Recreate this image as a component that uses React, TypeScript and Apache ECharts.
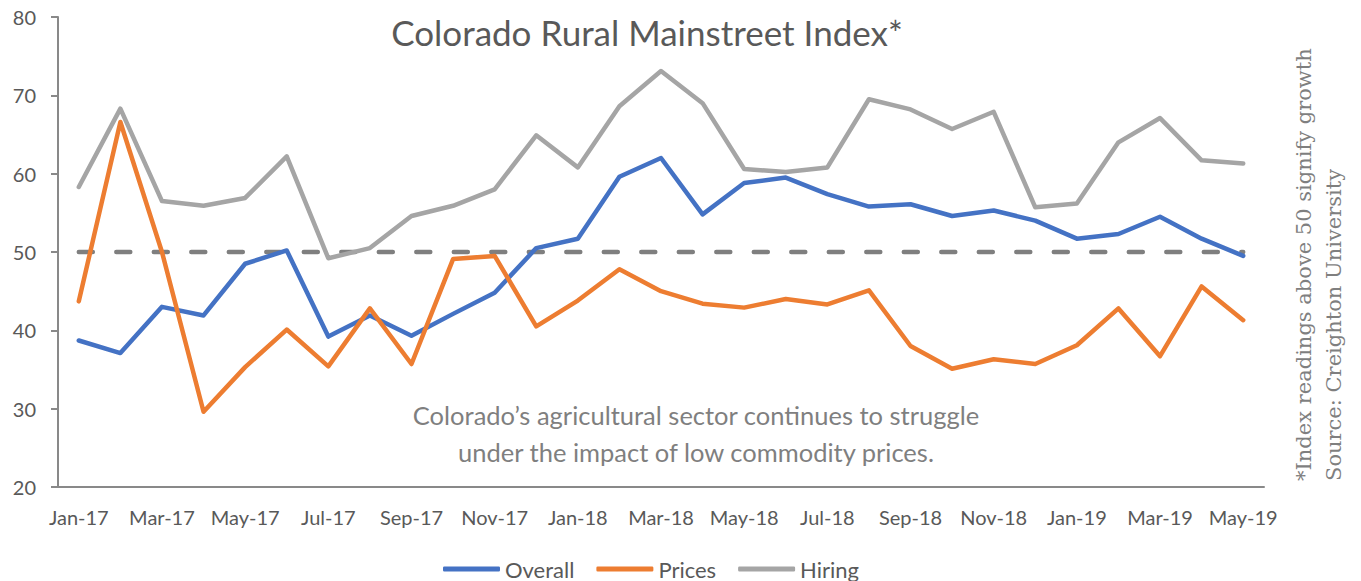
import React, { useEffect, useRef } from "react";
import * as echarts from "echarts";

const categories = [
  "Jan-17", "Feb-17", "Mar-17", "Apr-17", "May-17", "Jun-17", "Jul-17", "Aug-17", "Sep-17", "Oct-17", "Nov-17", "Dec-17",
  "Jan-18", "Feb-18", "Mar-18", "Apr-18", "May-18", "Jun-18", "Jul-18", "Aug-18", "Sep-18", "Oct-18", "Nov-18", "Dec-18",
  "Jan-19", "Feb-19", "Mar-19", "Apr-19", "May-19",
];

const overall = [38.7, 37.1, 43.0, 41.9, 48.5, 50.2, 39.2, 41.9, 39.3, 42.1, 44.8, 50.5, 51.7, 59.6, 62.0, 54.8, 58.8, 59.5, 57.4, 55.8, 56.1, 54.6, 55.3, 54.0, 51.7, 52.3, 54.5, 51.7, 49.5];
const prices = [43.7, 66.6, 50.0, 29.6, 35.3, 40.1, 35.4, 42.8, 35.7, 49.1, 49.5, 40.5, 43.8, 47.8, 45.0, 43.4, 42.9, 44.0, 43.3, 45.1, 38.0, 35.1, 36.3, 35.7, 38.1, 42.8, 36.7, 45.6, 41.3];
const hiring = [58.3, 68.3, 56.5, 55.9, 56.9, 62.2, 49.2, 50.5, 54.6, 55.9, 58.0, 64.9, 60.8, 68.6, 73.1, 69.0, 60.6, 60.2, 60.8, 69.5, 68.2, 65.7, 67.9, 55.7, 56.2, 64.0, 67.1, 61.7, 61.3];
const threshold = 50;

const seriesNames = ["Overall", "Prices", "Hiring"];
const seriesColors = ["#4472C4", "#ED7D31", "#A5A5A5"];

const titleText = "Colorado Rural Mainstreet Index*";
const noteLines = [
  "Colorado\u2019s agricultural sector continues to struggle",
  "under the impact of low commodity prices.",
];
const sideLines = ["*Index readings above 50 signify growth", "Source: Creighton University"];

const SANS = "Lato, 'Open Sans', sans-serif";
const SERIF = "'DejaVu Serif', serif";

export default function App() {
  const ref = useRef<HTMLDivElement>(null);

  useEffect(() => {
    if (!ref.current) return;
    const chart = echarts.init(ref.current, null, { renderer: "svg" });
    const values = [overall, prices, hiring];
    const lineSeries = seriesNames.map((name, i) => ({
      name,
      type: "line",
      data: values[i],
      symbol: "none",
      z: 3 + i,
      lineStyle: { color: seriesColors[i], width: 4.5, cap: "round", join: "round" },
      itemStyle: { color: seriesColors[i] },
    }));

    chart.setOption({
      animation: false,
      backgroundColor: "#ffffff",
      title: {
        text: titleText,
        left: 642,
        top: 9,
        textAlign: "center",
        textStyle: { fontFamily: SANS, fontSize: 35, fontWeight: "normal", color: "#595959" },
      },
      legend: {
        data: seriesNames,
        left: 443,
        top: 552,
        padding: 0,
        icon: "roundRect",
        itemWidth: 57,
        itemHeight: 5,
        itemGap: 22,
        textStyle: { fontFamily: SANS, fontSize: 22, color: "#595959", lineHeight: 34 },
      },
      grid: { left: 58, right: 97, top: 17, bottom: 94, containLabel: false },
      xAxis: {
        type: "category",
        data: categories,
        boundaryGap: true,
        axisLine: { lineStyle: { color: "#898989", width: 2 } },
        axisTick: { interval: 1, length: 7, lineStyle: { color: "#898989", width: 2 } },
        axisLabel: { interval: 1, fontFamily: SANS, fontSize: 20, color: "#595959", margin: 20 },
        splitLine: { show: false },
      },
      yAxis: {
        type: "value",
        min: 20,
        max: 80,
        interval: 10,
        axisLine: { show: true, lineStyle: { color: "#898989", width: 2 } },
        axisTick: { show: true, length: 7, lineStyle: { color: "#898989", width: 2 } },
        axisLabel: { fontFamily: SANS, fontSize: 20, color: "#595959", margin: 22 },
        splitLine: { show: false },
      },
      graphic: [
        ...noteLines.map((t, i) => ({
          type: "text",
          x: 696,
          y: 415 + i * 37,
          style: {
            text: t,
            fontFamily: SANS,
            fontSize: 25.5,
            fill: "#7F7F7F",
            textAlign: "center",
            textVerticalAlign: "middle",
          },
        })),
        ...sideLines.map((t, i) => ({
          type: "text",
          x: 1304 + i * 30,
          y: 481,
          rotation: Math.PI / 2,
          style: {
            text: t,
            fontFamily: SERIF,
            fontSize: 21,
            fill: "#7F7F7F",
            textAlign: "left",
            textVerticalAlign: "middle",
          },
        })),
      ],
      series: [
        {
          name: "threshold",
          type: "line",
          data: categories.map(() => threshold),
          symbol: "none",
          z: 2,
          lineStyle: { color: "#7F7F7F", width: 4.5, type: [14, 23.5], cap: "round" },
          silent: true,
        },
        ...lineSeries,
      ],
    });
    return () => chart.dispose();
  }, []);

  return (
    <div
      ref={ref}
      style={{ position: "absolute", left: 0, top: 0, width: 1361, height: 581 }}
    />
  );
}
